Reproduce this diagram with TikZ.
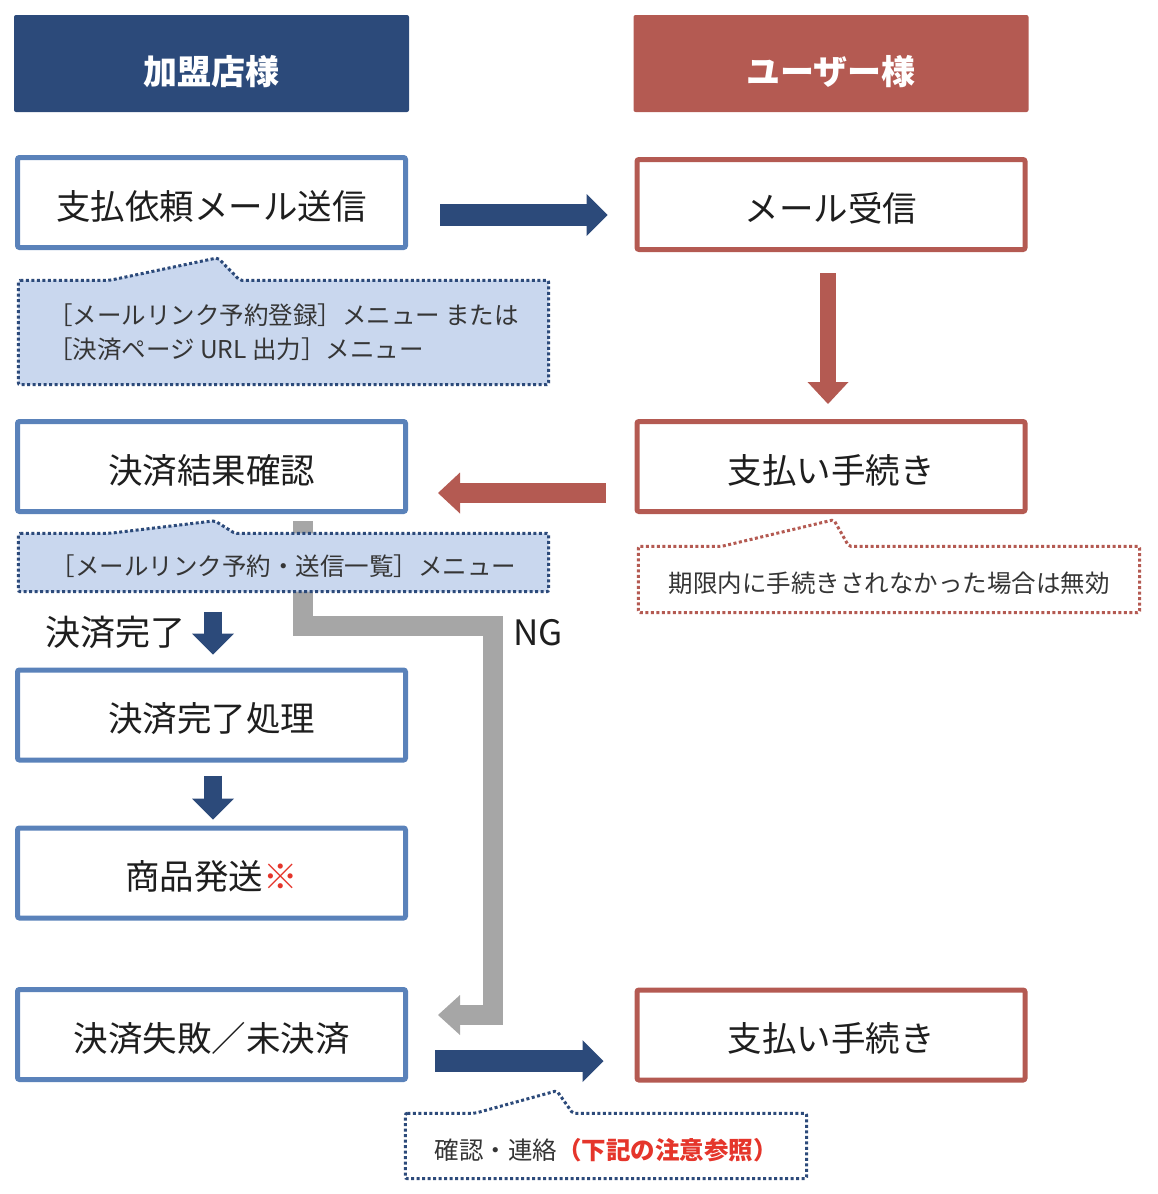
\documentclass[tikz,border=0pt]{standalone}
\usepackage{fontspec}
\setmainfont{Noto Sans CJK JP}
\usetikzlibrary{arrows.meta,positioning,calc,backgrounds}

\definecolor{navy}{HTML}{2C4A7A}
\definecolor{mblue}{HTML}{5A82BA}
\definecolor{ured}{HTML}{B45A52}
\definecolor{notebg}{HTML}{C9D7EE}
\definecolor{gline}{HTML}{A6A6A6}
\definecolor{txt}{HTML}{1E1E1E}
\definecolor{alert}{HTML}{E5352B}

\begin{document}
\begin{tikzpicture}[x=1pt, y=-1pt,
    head/.style={rectangle, rounded corners=2pt, minimum width=395pt,
                 minimum height=97pt, text=white, text height=44.4pt,
                 text depth=2.6pt, font=\fontsize{34}{40}\selectfont\bfseries},
    mbox/.style={rectangle, draw=mblue, line width=5pt, rounded corners=2pt,
                 fill=white, minimum width=388pt, minimum height=90pt,
                 text=txt, text height=36pt, text depth=2.8pt,
                 font=\fontsize{34.5}{40}\selectfont},
    ubox/.style={mbox, draw=ured},
    note/.style={rectangle, inner sep=0pt, align=left, text=txt!90,
                 execute at begin node={\rule{0pt}{28.5pt}},
                 font=\fontsize{24.5}{34}\selectfont},
    frame/.style={draw=navy, line width=3pt, dash pattern=on 3pt off 2.5pt,
                  rounded corners=2pt},
    lbl/.style={text=txt, font=\fontsize{35}{40}\selectfont},
    barr/.style={draw=navy, line width=22pt,
                 -{Triangle[length=21pt, width=42pt, line width=0pt]}},
    rarr/.style={draw=ured, line width=18pt,
                 -{Triangle[length=22pt, width=41pt, line width=0pt]}},
    garr/.style={draw=gline, line width=20pt,
                 -{Triangle[length=22pt, width=40pt, line width=0pt]}},
]
\useasboundingbox (0,0) rectangle (1158,1194);

% headers
\node[head, fill=navy] (shop) at (211.5,63.5) {加盟店様};
\node[head, fill=ured] (user) at (831,63.5) {ユーザー様};

% shop side
\node[mbox] (send) at (211.5,202.5) {支払依頼メール送信};
\node[mbox] (check) at (211.5,466.5) {決済結果確認};
\node[mbox] (done) at (211.5,715) {決済完了処理};
\node[mbox] (ship) at (211.5,873) {商品発送{\color{alert}※}};
\node[mbox] (fail) at (211.5,1034.5) {決済失敗／未決済};

% user side
\node[ubox] (recv) at (831,204.5) {メール受信};
\node[ubox] (pay1) at (831,466.5) {支払い手続き};
\node[ubox] (pay2) at (831,1035) {支払い手続き};

% notes
\node[note, minimum width=530pt, minimum height=104pt,
      execute at begin node={\rule{0pt}{34.5pt}}] (m1) at (283.5,332.5)
    {［メールリンク予約登録］メニュー または\\［決済ページ URL 出力］メニュー};
\node[note, minimum width=530pt, minimum height=58pt] (m2) at (283.5,562.5)
    {［メールリンク予約・送信一覧］メニュー};
\node[note, minimum width=501pt, minimum height=66pt] (m3) at (889,579.5)
    {期限内に手続きされなかった場合は無効};
\node[note, minimum width=401pt, minimum height=65pt] (m4) at (606,1146)
    {確認・連絡{\color{alert}\bfseries（下記の注意参照）}};

% labels
\node[lbl, anchor=east] (ok) at (189,632) {決済完了};
\node[lbl] (ng) at (538,633) {NG};

\begin{scope}[on background layer]
\draw[garr] ($(check.south)+(91.5,7)$) -- ++(0,105)
    -| ($(fail.east)+(85,-19.5)$) -- ($(fail.east)+(30,-19.5)$);
\draw[frame, fill=notebg] (m1.north west) -- ($(m1.north west)+(91.5,0)$)
    -- ($(m1.north west)+(199.5,-22.5)$) -- ($(m1.north west)+(221.5,0)$)
    -- (m1.north east) -- (m1.south east) -- (m1.south west) -- cycle;
\draw[frame, fill=notebg] (m2.north west) -- ($(m2.north west)+(91.5,0)$)
    -- ($(m2.north west)+(196.5,-12.5)$) -- ($(m2.north west)+(216.5,0)$)
    -- (m2.north east) -- (m2.south east) -- (m2.south west) -- cycle;
\draw[frame, draw=ured, fill=white] (m3.north west) -- ($(m3.north west)+(83.5,0)$)
    -- ($(m3.north west)+(195.5,-26.5)$) -- ($(m3.north west)+(210.5,0)$)
    -- (m3.north east) -- (m3.south east) -- (m3.south west) -- cycle;
\draw[frame, fill=white] (m4.north west) -- ($(m4.north west)+(69.5,0)$)
    -- ($(m4.north west)+(151.5,-22.5)$) -- ($(m4.north west)+(167.5,0)$)
    -- (m4.north east) -- (m4.south east) -- (m4.south west) -- cycle;
\end{scope}

% flow arrows
\draw[barr] ($(send.east)+(32,12.5)$) -- ($(recv.west)+(-27,10.5)$);
\draw[rarr, line width=16pt] ($(recv.south)+(-3,21)$) -- ($(pay1.north)+(-3,-15)$);
\draw[rarr, line width=20pt] ($(pay1.west)+(-29,26.5)$) -- ($(check.east)+(30,26.5)$);
\draw[barr, line width=18pt] ($(done.north)+(1.5,-56)$) -- ($(done.north)+(1.5,-13)$);
\draw[barr, line width=18pt] ($(done.south)+(1.5,13)$) -- ($(ship.north)+(1.5,-6)$);
\draw[barr] ($(fail.east)+(27,26.5)$) -- ($(pay2.west)+(-31,26)$);

\end{tikzpicture}
\end{document}
